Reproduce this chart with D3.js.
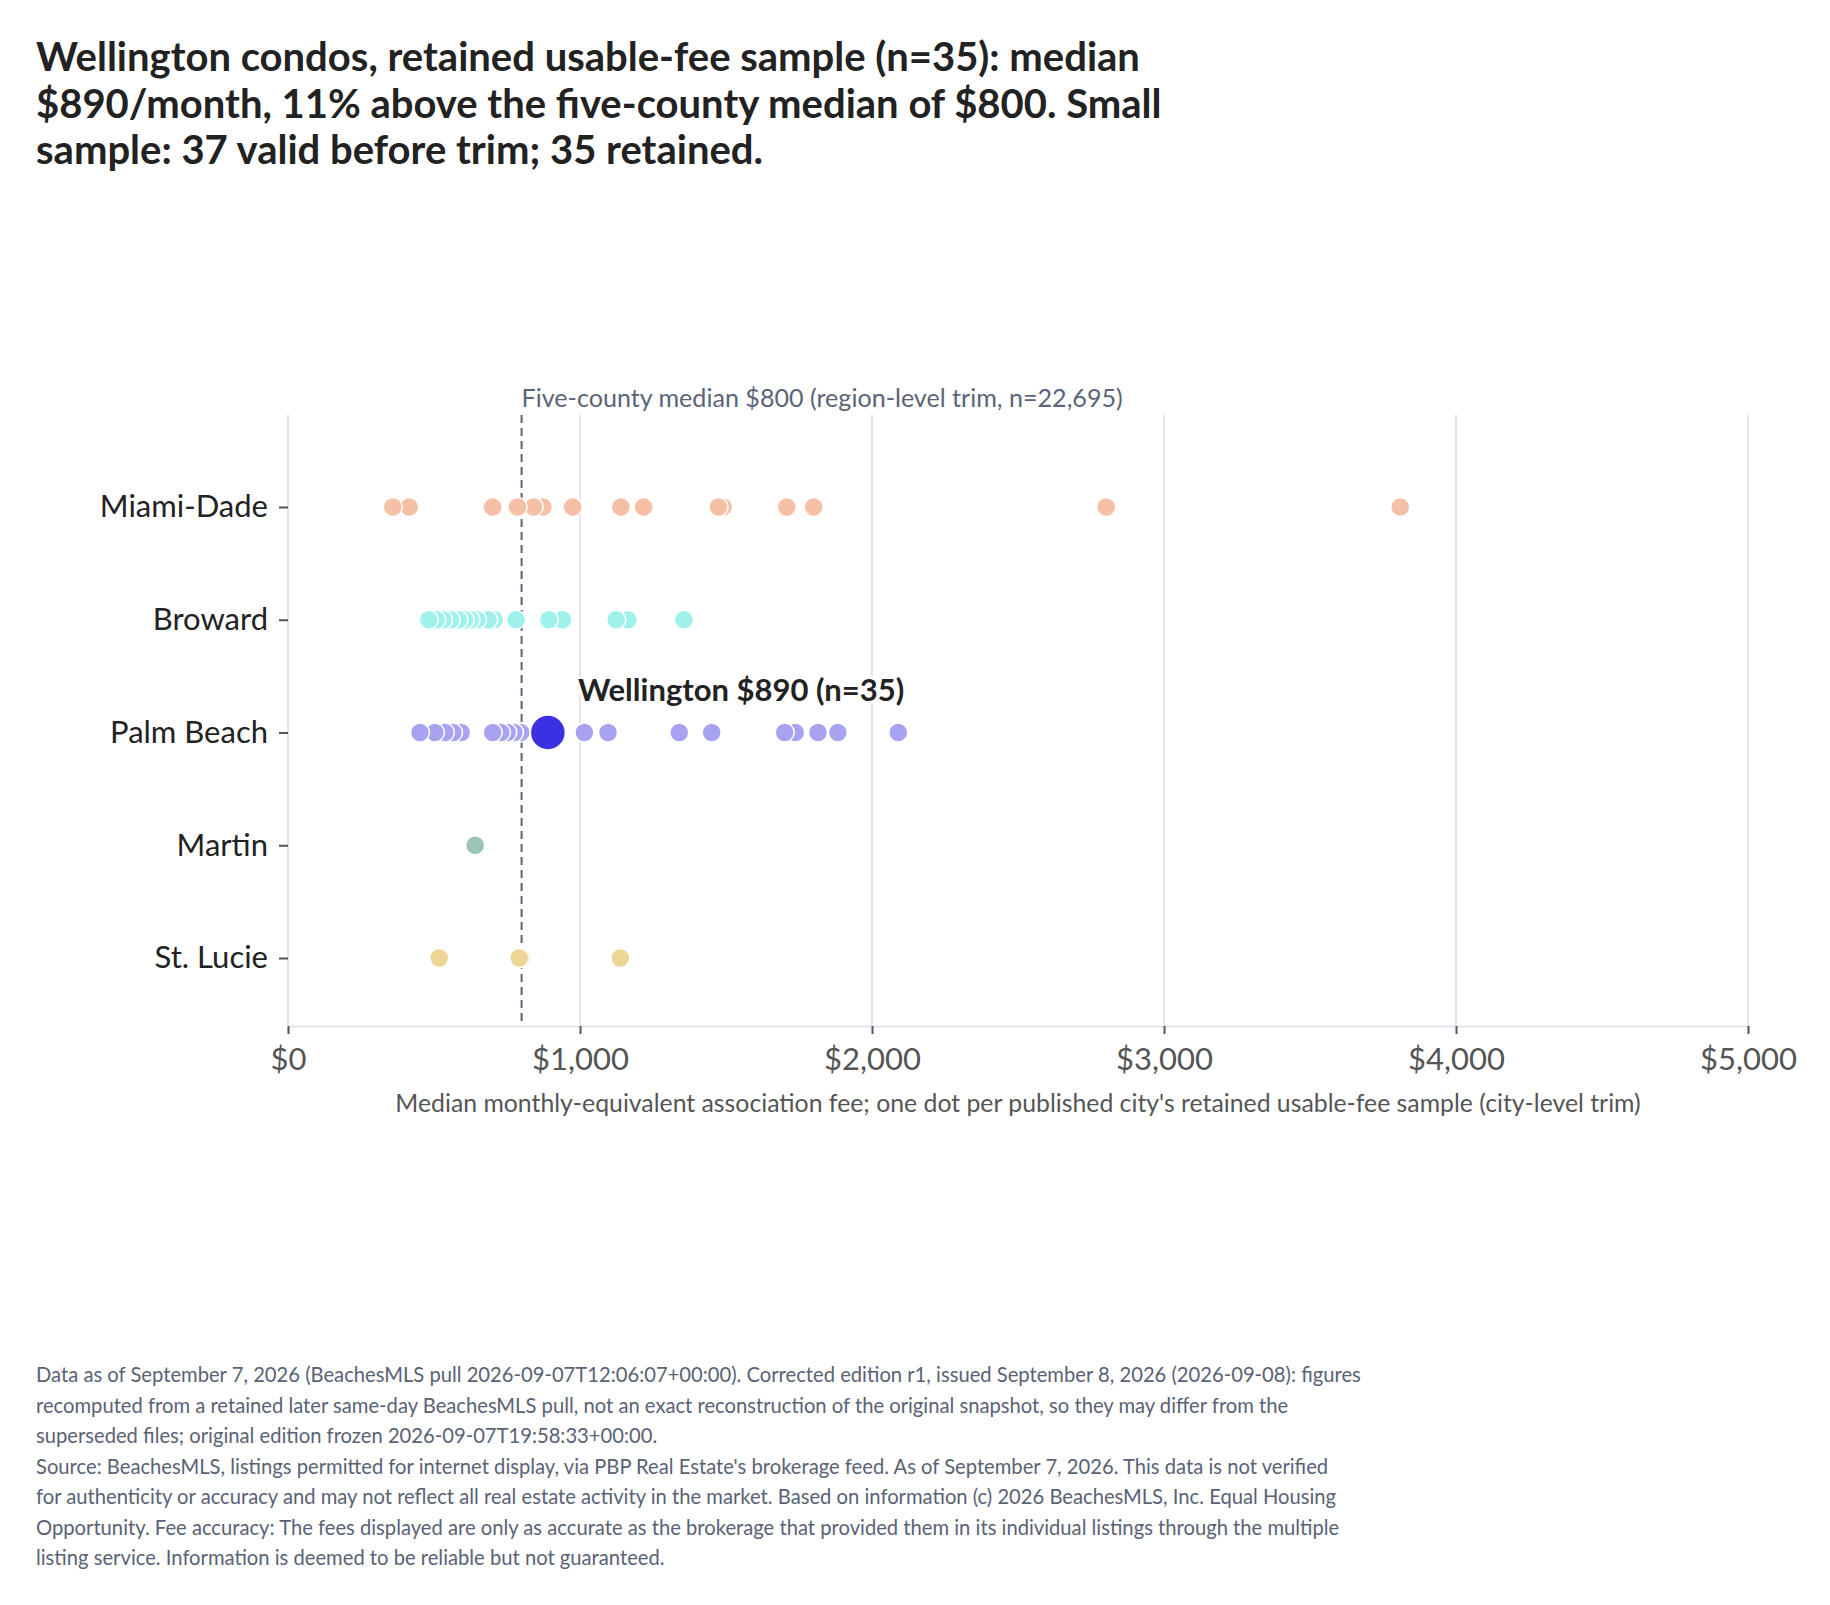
<!DOCTYPE html>
<html>
<head>
<meta charset="utf-8">
<script src="https://cdn.jsdelivr.net/npm/d3@7"></script>
<style>
  html, body { margin: 0; padding: 0; background: #fff; }
  svg { display: block; font-family: Lato, "Noto Sans", sans-serif; }
</style>
</head>
<body>
<svg id="chart"></svg>
<script>
// counties, top to bottom
const counties = ['Miami-Dade', 'Broward', 'Palm Beach', 'Martin', 'St. Lucie'];

// one value per published city (median monthly fee, $)
const miamiDade = [359, 415, 701, 786, 841, 873, 975, 1140, 1218, 1474, 1490, 1708, 1800, 2802, 3809];
const broward = [482, 508, 531, 557, 584, 605, 625, 647, 686, 706, 781, 893, 940, 1124, 1164, 1356];
const palmBeach = [452, 503, 537, 565, 593, 701, 729, 751, 774, 797, 1015, 1096, 1340, 1451, 1701, 1737, 1815, 1883, 2090];
const martin = [641];
const stLucie = [518, 792, 799, 1138];

const highlight = { county: 'Palm Beach', name: 'Wellington', value: 890, n: 35 };
const regionMedian = 800;
const regionN = '22,695';
const xTicks = [0, 1000, 2000, 3000, 4000, 5000];

const colors = {
  'Miami-Dade': '#f5c0a6',
  'Broward': '#9ff2ea',
  'Palm Beach': '#a8a3f0',
  'Martin': '#9cc4b6',
  'St. Lucie': '#efd592'
};

const titleLines = [
  'Wellington condos, retained usable-fee sample (n=35): median',
  '$890/month, 11% above the five-county median of $800. Small',
  'sample: 37 valid before trim; 35 retained.'
];

const footLines = [
  'Data as of September 7, 2026 (BeachesMLS pull 2026-09-07T12:06:07+00:00). Corrected edition r1, issued September 8, 2026 (2026-09-08): figures',
  'recomputed from a retained later same-day BeachesMLS pull, not an exact reconstruction of the original snapshot, so they may differ from the',
  'superseded files; original edition frozen 2026-09-07T19:58:33+00:00.',
  "Source: BeachesMLS, listings permitted for internet display, via PBP Real Estate's brokerage feed. As of September 7, 2026. This data is not verified",
  'for authenticity or accuracy and may not reflect all real estate activity in the market. Based on information (c) 2026 BeachesMLS, Inc. Equal Housing',
  'Opportunity. Fee accuracy: The fees displayed are only as accurate as the brokerage that provided them in its individual listings through the multiple',
  'listing service. Information is deemed to be reliable but not guaranteed.'
];

const width = 1830;
const height = 1605;
const plot = { left: 288, right: 1748, top: 415, bottom: 1026 };

const svg = d3.select('#chart')
  .attr('width', width)
  .attr('height', height);

svg.append('rect')
  .attr('width', width)
  .attr('height', height)
  .attr('fill', '#fff');

// title
svg.append('g')
  .selectAll('text')
  .data(titleLines)
  .join('text')
    .attr('x', 36)
    .attr('y', (d, i) => 71 + i * 46.5)
    .attr('font-size', 40)
    .attr('font-weight', 700)
    .attr('fill', '#222')
    .text(d => d);

const x = d3.scaleLinear()
  .domain([0, 5000])
  .range([plot.left, plot.right]);

const y = d3.scalePoint()
  .domain(counties)
  .range([507, 958]);

// gridlines
svg.append('g')
  .selectAll('line')
  .data(xTicks.filter(d => d > 0))
  .join('line')
    .attr('x1', d => x(d))
    .attr('x2', d => x(d))
    .attr('y1', plot.top)
    .attr('y2', plot.bottom)
    .attr('stroke', '#e3e3f1')
    .attr('stroke-width', 2);

// y axis line
svg.append('line')
  .attr('x1', plot.left).attr('x2', plot.left)
  .attr('y1', plot.top).attr('y2', plot.bottom)
  .attr('stroke', '#e3e3f1')
  .attr('stroke-width', 2);

// x axis
const xAxis = svg.append('g')
  .attr('transform', 'translate(0,' + plot.bottom + ')')
  .call(d3.axisBottom(x)
    .tickValues(xTicks)
    .tickFormat(d3.format('$,'))
    .tickSize(8)
    .tickPadding(14));

xAxis.select('.domain').attr('stroke', '#e3e3f1').attr('stroke-width', 2);
xAxis.selectAll('.tick line').attr('stroke', '#555').attr('stroke-width', 2);
xAxis.selectAll('.tick text')
  .attr('font-family', 'Lato, sans-serif')
  .attr('font-size', 31)
  .attr('fill', '#555');

// y axis
const yAxis = svg.append('g')
  .attr('transform', 'translate(' + plot.left + ',0)')
  .call(d3.axisLeft(y).tickSize(9).tickPadding(11));

yAxis.select('.domain').remove();
yAxis.selectAll('.tick line').attr('stroke', '#555').attr('stroke-width', 2);
yAxis.selectAll('.tick text')
  .attr('font-family', 'Lato, sans-serif')
  .attr('font-size', 31)
  .attr('fill', '#222');

// axis title
svg.append('text')
  .attr('x', (plot.left + plot.right) / 2)
  .attr('y', 1112)
  .attr('text-anchor', 'middle')
  .attr('font-size', 24.8)
  .attr('fill', '#555')
  .text("Median monthly-equivalent association fee; one dot per published city's retained usable-fee sample (city-level trim)");

// region median line
svg.append('line')
  .attr('x1', x(regionMedian)).attr('x2', x(regionMedian))
  .attr('y1', plot.top).attr('y2', plot.bottom)
  .attr('stroke', '#5b6478')
  .attr('stroke-width', 2)
  .attr('stroke-dasharray', '8,5');

svg.append('text')
  .attr('x', x(regionMedian))
  .attr('y', 407)
  .attr('font-size', 25.1)
  .attr('fill', '#5b6478')
  .text('Five-county median $' + regionMedian + ' (region-level trim, n=' + regionN + ')');

// dots
const series = [
  { county: 'Miami-Dade', values: miamiDade },
  { county: 'Broward', values: broward },
  { county: 'Palm Beach', values: palmBeach },
  { county: 'Martin', values: martin },
  { county: 'St. Lucie', values: stLucie }
];

const dots = series.flatMap(s =>
  s.values.slice().sort((a, b) => b - a).map(v => ({ county: s.county, value: v })));

svg.append('g')
  .selectAll('circle')
  .data(dots)
  .join('circle')
    .attr('cx', d => x(d.value))
    .attr('cy', d => y(d.county))
    .attr('r', 9.5)
    .attr('fill', d => colors[d.county])
    .attr('stroke', '#fff')
    .attr('stroke-width', 1.5);

// highlighted city
svg.append('circle')
  .attr('cx', x(highlight.value))
  .attr('cy', y(highlight.county))
  .attr('r', 17.5)
  .attr('fill', '#3b30e2')
  .attr('stroke', '#fff')
  .attr('stroke-width', 1.5);

svg.append('text')
  .attr('x', x(highlight.value) + 30)
  .attr('y', y(highlight.county) - 32)
  .attr('font-size', 31)
  .attr('font-weight', 700)
  .attr('fill', '#222')
  .attr('stroke', '#fff')
  .attr('stroke-width', 6)
  .attr('stroke-linejoin', 'round')
  .attr('paint-order', 'stroke')
  .text(highlight.name + ' $' + highlight.value + ' (n=' + highlight.n + ')');

// footer
svg.append('g')
  .selectAll('text')
  .data(footLines)
  .join('text')
    .attr('x', 36)
    .attr('y', (d, i) => 1382 + i * 30.5)
    .attr('font-size', 20.2)
    .attr('fill', '#5a6275')
    .text(d => d);
</script>
</body>
</html>
